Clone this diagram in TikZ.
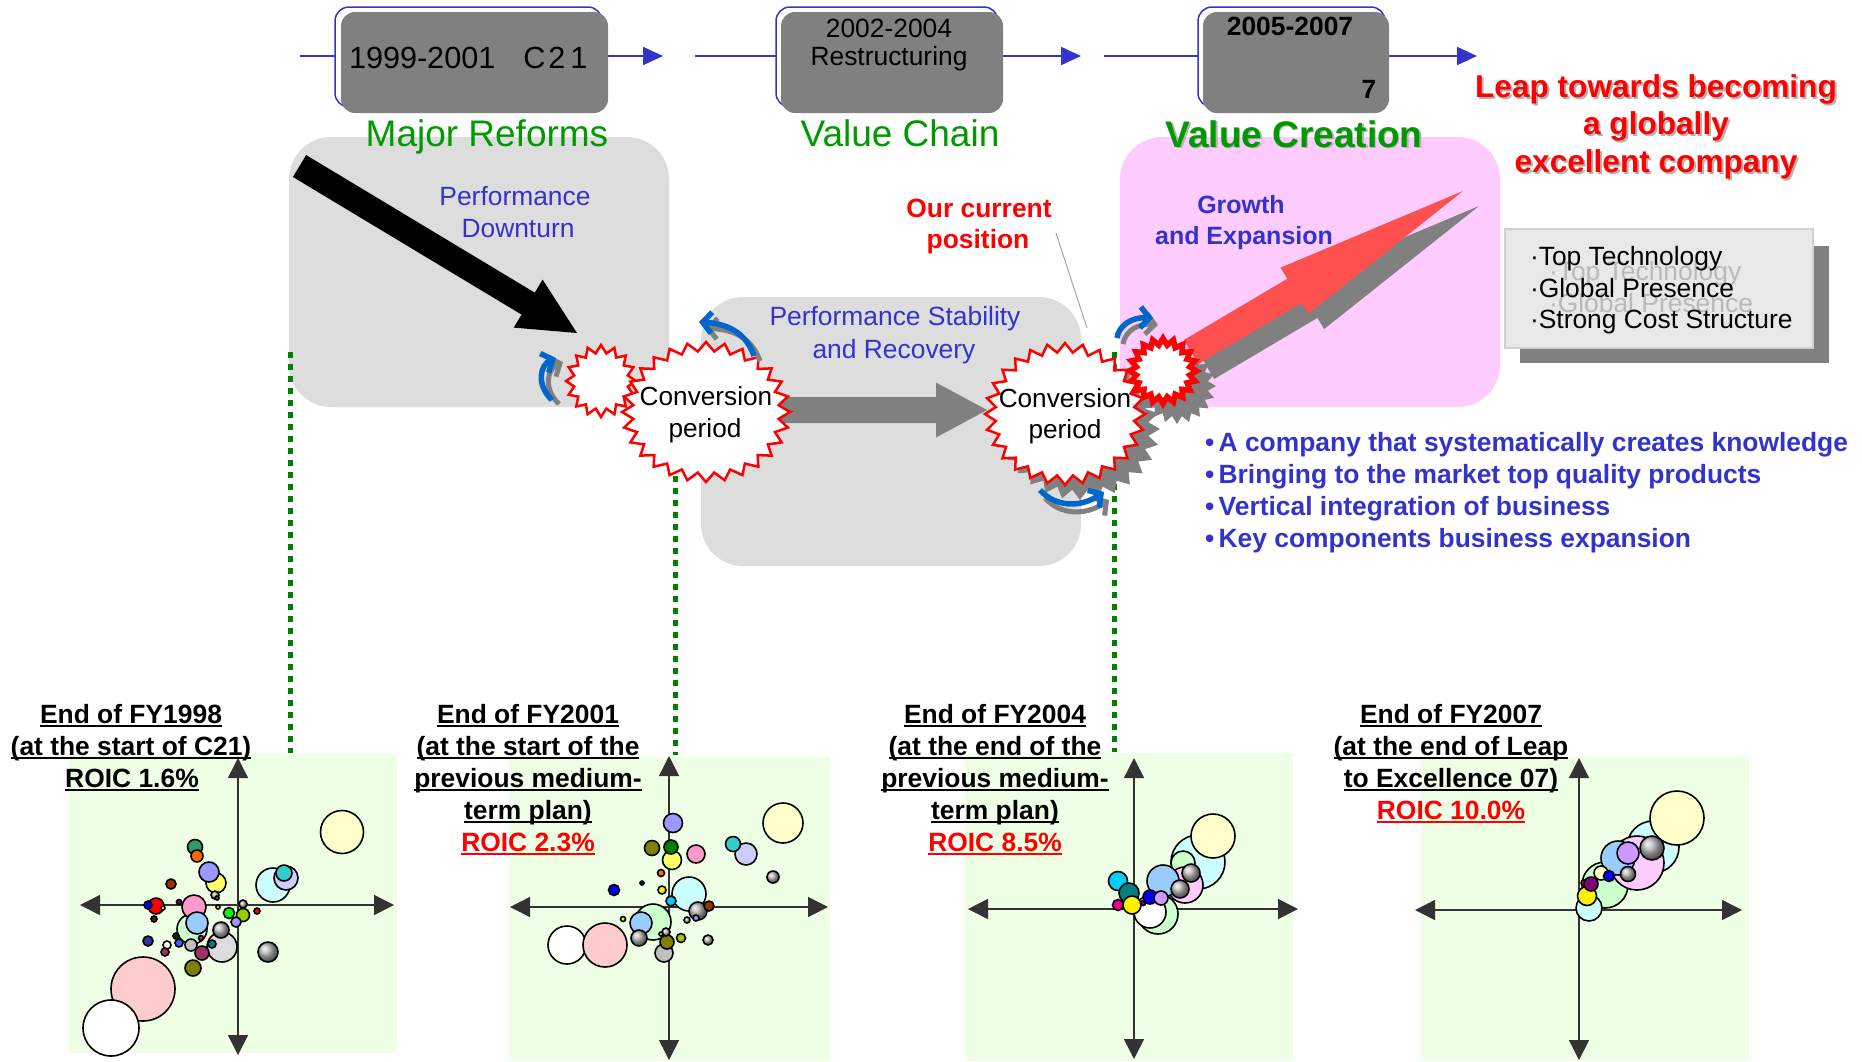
\documentclass[tikz,border=0pt]{standalone}
\usepackage{fontspec}
\setmainfont{Liberation Sans}
\usetikzlibrary{calc,arrows.meta}
\newcommand\fs[1]{\fontsize{#1}{#1}\selectfont}
\newsavebox\ulbox
\newcommand\ulx[1]{\sbox\ulbox{#1}\rlap{\rule[-3.5pt]{\wd\ulbox}{2pt}}\usebox\ulbox}
% starburst path: cx cy rx ry innerratio npoints(even)
\newcommand\burst[6]{({#1+#3},{#2}) \foreach \k in {1,...,#6} { -- ({#1+#3*(1-(1-#5)*mod(\k,2))*cos((360/#6)*\k)},{#2+#4*(1-(1-#5)*mod(\k,2))*sin((360/#6)*\k)}) } -- cycle}
% block arrow: style, from, to, shaft half width, head half width, head length
\newcommand\blockarrow[6]{%
  \path ($(#3)!#6!(#2)$) coordinate (bahd);
  \fill[#1] ($(#2)!#4!90:(#3)$) -- ($(bahd)!#4!90:(#3)$) -- ($(bahd)!#5!90:(#3)$) -- (#3)
    -- ($(bahd)!#5!-90:(#3)$) -- ($(bahd)!#4!-90:(#3)$) -- ($(#2)!#4!-90:(#3)$) -- cycle;}
\definecolor{tlblue}{RGB}{51,51,204}
\definecolor{boxgray}{RGB}{128,128,128}
\definecolor{ttgreen}{RGB}{0,153,0}
\definecolor{txblue}{RGB}{51,51,204}
\definecolor{lgray}{RGB}{221,221,221}
\definecolor{lpinkbox}{RGB}{255,204,255}
\definecolor{cblue}{RGB}{0,102,204}
\definecolor{arrred}{RGB}{255,80,80}
\definecolor{chartbg}{RGB}{238,255,230}
\definecolor{dotgreen}{RGB}{0,128,0}
\definecolor{tboxfill}{RGB}{232,232,232}
\definecolor{tboxline}{RGB}{208,208,208}
% bubble colours
\definecolor{cpink}{HTML}{FFCCCC}
\definecolor{clgray}{HTML}{DDDDDD}
\definecolor{clgreen}{HTML}{CCFFCC}
\definecolor{crose}{HTML}{FF99CC}
\definecolor{clblue}{HTML}{99CCFF}
\definecolor{ccream}{HTML}{FFFFCC}
\definecolor{clcyan}{HTML}{CCFFFF}
\definecolor{clav}{HTML}{CCCCFF}
\definecolor{cteal}{HTML}{33CCCC}
\definecolor{cseagreen}{HTML}{339966}
\definecolor{corange}{HTML}{FF6600}
\definecolor{cperi}{HTML}{9999FF}
\definecolor{cyellow}{HTML}{FFFF66}
\definecolor{cbrown}{HTML}{993300}
\definecolor{cplum}{HTML}{993366}
\definecolor{cdkolive}{HTML}{333300}
\definecolor{cpurple}{HTML}{800080}
\definecolor{cgreen}{HTML}{00FF00}
\definecolor{clime}{HTML}{99CC00}
\definecolor{cnavy}{HTML}{333399}
\definecolor{cmaroon}{HTML}{993366}
\definecolor{cdkgreen}{HTML}{003300}
\definecolor{croyal}{HTML}{3366FF}
\definecolor{csilver}{HTML}{C0C0C0}
\definecolor{cteald}{HTML}{008080}
\definecolor{colive}{HTML}{808000}
\definecolor{cgold}{HTML}{FFCC00}
\definecolor{csky}{HTML}{00CCFF}
\definecolor{cgreend}{HTML}{008000}
\definecolor{clpink}{HTML}{FFCCFF}
\definecolor{clilac}{HTML}{CC99FF}
\tikzset{
  t/.style={inner sep=0pt, outer sep=0pt, anchor=base},
  tw/.style={inner sep=0pt, outer sep=0pt, anchor=base west},
  tline/.style={draw=tlblue, line width=2pt, -{Triangle[length=20pt,width=18pt]}},
  dotline/.style={draw=dotgreen, line width=5pt, dash pattern=on 6pt off 6pt},
  cab/.style={draw=cblue, line width=5.5pt, -{Straight Barb[length=9pt,width=21pt]}},
  cas/.style={draw=boxgray, line width=5pt, -{Straight Barb[length=9pt,width=21pt]}},
  bub/.style={draw=black, line width=1.6pt},
  axisline/.style={draw=black!80, line width=1.5pt, {Triangle[length=20pt,width=20pt]}-{Triangle[length=20pt,width=20pt]}},
  cl/.style={t, font=\fs{26.4}\bfseries},
}
\newcommand\bb[4]{\filldraw[bub,fill=#4] (#1,#2) circle[radius=#3pt];}
\newcommand\gb[3]{\shadedraw[bub,ball color=gray!55] (#1,#2) circle[radius=#3pt];}
\begin{document}
\begin{tikzpicture}[x=1pt,y=-1pt]
\useasboundingbox (0,0) rectangle (1862,1061);
\fill[white] (0,0) rectangle (1862,1061);

% ---- big background panels
\fill[lgray, rounded corners=42pt] (289,137) rectangle (669,407);
\fill[lgray, rounded corners=42pt] (701,297) rectangle (1081,566);
\fill[lpinkbox, rounded corners=42pt] (1120,137) rectangle (1500,407);

% ---- timeline
\coordinate (t1s) at (300,56); \coordinate (t1e) at (663,56);
\coordinate (t2s) at (695,56); \coordinate (t2e) at (1081,56);
\coordinate (t3s) at (1104,56); \coordinate (t3e) at (1477,56);
\draw[tline] (t1s) -- (t1e);
\draw[tline] (t2s) -- (t2e);
\draw[tline] (t3s) -- (t3e);
\filldraw[fill=white, draw=tlblue, line width=1.5pt, rounded corners=14pt] (335,7) rectangle (602,107);
\fill[boxgray, rounded corners=14pt] (341,12) rectangle (608,113);
\filldraw[fill=white, draw=tlblue, line width=1.5pt, rounded corners=14pt] (776,7) rectangle (998,107);
\fill[boxgray, rounded corners=14pt] (781,12) rectangle (1003,113);
\filldraw[fill=white, draw=tlblue, line width=1.5pt, rounded corners=14pt] (1198,7) rectangle (1385,107);
\fill[boxgray, rounded corners=14pt] (1203,12) rectangle (1389,113);
\node[tw, font=\fs{30.6}] (b1) at (349,68) {1999-2001\hspace{28pt}C\hspace{3pt}2\hspace{5pt}1};
\node[t, font=\fs{26.4}] (b2a) at (889,37) {2002-2004};
\node[t, font=\fs{26.4}] (b2b) at (889,65) {Restructuring};
\node[t, font=\fs{26.4}\bfseries] (b3a) at (1290,35) {2005-2007};
\node[t, font=\fs{26.4}\bfseries] (b3b) at (1369,98) {7};

% ---- phase titles
\node[t, font=\fs{37}, text=ttgreen] (p1) at (487,146) {Major Reforms};
\node[t, font=\fs{37}, text=ttgreen] (p2) at (900,146) {Value Chain};
\node[t, font=\fs{37}\bfseries, text=gray!60] at (1295.5,148.5) {Value Creation};
\node[t, font=\fs{37}\bfseries, text=ttgreen] (p3) at (1294,147) {Value Creation};

% ---- leap text
\node[t, font=\fs{31.6}\bfseries, text=gray!60] at (1658,99) {Leap towards becoming};
\node[t, font=\fs{31.6}\bfseries, text=gray!60] at (1658,136) {a globally};
\node[t, font=\fs{31.6}\bfseries, text=gray!60] at (1658,174) {excellent company};
\node[t, font=\fs{31.6}\bfseries, text=red] (l1) at (1656,97) {Leap towards becoming};
\node[t, font=\fs{31.6}\bfseries, text=red] (l2) at (1656,134) {a globally};
\node[t, font=\fs{31.6}\bfseries, text=red] (l3) at (1656,172) {excellent company};

% ---- dotted guide lines
\draw[dotline] (290,352) -- (290,753);
\draw[dotline] (675,380) -- (675,755);
\draw[dotline] (1114,352) -- (1114,752);

% ---- panel texts
\node[t, font=\fs{26.4}, text=txblue] (pd1) at (515,205) {Performance};
\node[t, font=\fs{26.4}, text=txblue] (pd2) at (518,237) {Downturn};
\node[t, font=\fs{26.4}, text=txblue] (ps1) at (895,325) {Performance Stability};
\node[t, font=\fs{26.4}, text=txblue] (ps2) at (894,358) {and Recovery};
\node[t, font=\fs{25}\bfseries, text=txblue] (ge1) at (1241,213) {Growth};
\node[t, font=\fs{25}\bfseries, text=txblue] (ge2) at (1244,244) {and Expansion};
\node[t, font=\fs{26.4}\bfseries, text=red] (oc1) at (979,217) {Our current};
\node[t, font=\fs{26.4}\bfseries, text=red] (oc2) at (978,248) {position};
\coordinate (ocA) at (1056,233); \coordinate (ocB) at (1087,328);
\draw[gray!70, line width=1pt] (ocA) -- (ocB);

% ---- bullets
\foreach \txt [count=\i from 0] in {A company that systematically creates knowledge, Bringing to the market top quality products, Vertical integration of business, Key components business expansion}
  \node[tw, font=\fs{26.4}\bfseries, text=txblue] at (1205,451+32*\i) {•\,\txt};

% ---- strengths box
\fill[boxgray] (1520,246) rectangle (1829,363);
\filldraw[fill=tboxfill, draw=tboxline, line width=2pt] (1505,229) rectangle (1813,348);
\node[tw, font=\fs{26.4}, text=gray!55] at (1549,280) {·Top Technology};
\node[tw, font=\fs{26.4}, text=gray!55] at (1549,312) {·Global Presence};
\node[tw, font=\fs{26.4}] (s1) at (1530,265) {·Top Technology};
\node[tw, font=\fs{26.4}] (s2) at (1530,297) {·Global Presence};
\node[tw, font=\fs{26.4}] (s3) at (1530,328) {·Strong Cost Structure};

% ---- block arrows
\coordinate (bkA) at (299.5,166); \coordinate (bkB) at (577,333);
\blockarrow{black}{bkA}{bkB}{12.8pt}{28pt}{57pt}
\coordinate (gyA) at (780,410); \coordinate (gyB) at (987,410);
\blockarrow{boxgray}{gyA}{gyB}{13pt}{27.5pt}{51pt}
\coordinate (rsA) at (1207,367); \coordinate (rsB) at (1479,206);
\blockarrow{boxgray}{rsA}{rsB}{14pt}{27pt}{196pt}
\fill[boxgray] \burst{1080}{429}{80}{71}{0.86}{56};
\fill[boxgray] \burst{1177}{386}{39}{38}{0.8}{40};
\coordinate (rdA) at (1191,352); \coordinate (rdB) at (1463,191);
\blockarrow{arrred}{rdA}{rdB}{14pt}{27pt}{196pt}

% ---- starbursts
\filldraw[fill=white, draw=red, line width=2.5pt] \burst{601}{381}{35}{36}{0.78}{32};
\filldraw[fill=white, draw=red, line width=2.5pt] \burst{706}{412}{84}{70}{0.87}{56};
\filldraw[fill=white, draw=red, line width=2.5pt] \burst{1065}{414}{80}{71}{0.87}{56};
\fill[red] \burst{1163}{371}{39}{38}{0.8}{40};
\fill[white] \burst{1163}{371}{28}{27}{0.8}{40};
\node[t, font=\fs{26.2}] (cv1a) at (706,405) {Conversion};
\node[t, font=\fs{26.2}] (cv1b) at (705,437) {period};
\node[t, font=\fs{26.2}] (cv2a) at (1065,407) {Conversion};
\node[t, font=\fs{26.2}] (cv2b) at (1065,438) {period};

% ---- small curved arrows
\draw[cas] (559,404) .. controls (543,389) and (547,369) .. (563,362);
\draw[cab] (552,400) .. controls (536,385) and (540,365) .. (556,358);
\draw[cas] (760,361) .. controls (753,341) and (738,330) .. (705,328);
\draw[cab] (754,356) .. controls (747,336) and (732,324) .. (699,322);
\draw[cas] (1045,498) .. controls (1060,515) and (1085,516) .. (1109,500);
\draw[cab] (1040,490) .. controls (1055,507) and (1080,508) .. (1104,492);
\draw[cas] (1123,344) .. controls (1125,331) and (1138,323) .. (1158,325);
\draw[cab] (1117,338) .. controls (1119,325) and (1132,317) .. (1153,318);

% ================= charts =================
% chart 1
\fill[chartbg] (69,754) rectangle (397,1053);
\draw[axisline] (80,905) -- (394,905);
\draw[axisline] (238,758) -- (238,1055);
\bb{143}{989}{32}{cpink}
\bb{111}{1028}{28}{white}
\bb{222}{947}{15}{clgray}
\bb{192}{929}{15}{clgreen}
\bb{194}{907}{12}{crose}
\bb{197}{923}{11}{clblue}
\bb{342}{832}{21.5}{ccream}
\bb{273}{885}{17}{clcyan}
\bb{286}{878}{12}{clav}
\bb{284}{873}{8}{cteal}
\bb{195}{847}{7.5}{cseagreen}
\bb{197}{856}{6}{corange}
\bb{216}{883}{10}{cyellow}
\bb{209}{872}{10}{cperi}
\bb{171}{884}{5}{cbrown}
\gb{215}{895}{4}
\bb{217}{898}{2}{cplum}
\bb{156}{906}{8}{red}
\bb{148}{905}{4}{blue}
\bb{163}{908}{2}{yellow}
\bb{154}{919}{3}{cdkolive}
\bb{179}{902}{2.5}{cpurple}
\gb{221}{930}{8}
\bb{218}{907}{2}{yellow}
\bb{229}{913}{5.5}{cgreen}
\bb{243}{915}{6.5}{clime}
\bb{236}{922}{5}{cperi}
\gb{243}{904}{4}
\bb{257}{911}{3}{red}
\gb{268}{952}{10}
\bb{148}{941}{5}{cnavy}
\bb{167}{945}{4}{white}
\bb{165}{952}{4}{cmaroon}
\bb{176}{936}{3}{cdkgreen}
\bb{179}{943}{4}{croyal}
\bb{191}{945}{6}{csilver}
\bb{201}{938}{2.5}{magenta}
\bb{212}{944}{4}{cteald}
\bb{202}{953}{7}{cmaroon}
\bb{193}{968}{8}{colive}
\node[cl] (c1a) at (131,723) {\ulx{End of FY1998}};
\node[cl] (c1b) at (131,755) {\ulx{(at the start of C21)}};
\node[cl] (c1c) at (132,787) {\ulx{ROIC 1.6\%}};

% chart 2
\fill[chartbg] (509,757) rectangle (830,1061);
\draw[axisline] (510,907) -- (828,907);
\draw[axisline] (669,756) -- (669,1060);
\bb{567}{945}{19}{white}
\bb{605}{945}{22}{cpink}
\bb{653}{922}{18}{clgreen}
\bb{641}{923}{11}{clblue}
\gb{639}{938}{8}
\bb{664}{953}{9}{csilver}
\bb{667}{942}{7}{colive}
\gb{666}{932}{4}
\bb{661}{934}{2}{cgold}
\bb{681}{938}{4.5}{clime}
\gb{708}{940}{5}
\bb{623}{919}{2.5}{yellow}
\bb{689}{894}{17}{clcyan}
\bb{671}{901}{5}{csky}
\gb{698}{911}{9}
\bb{709}{906}{5}{cbrown}
\gb{687}{920}{3}
\bb{696}{918}{3}{cperi}
\bb{673}{823}{9.5}{cperi}
\bb{652}{848}{7.5}{colive}
\bb{672}{860}{9.5}{cyellow}
\bb{671}{847}{7}{cgreend}
\bb{696}{854}{9}{crose}
\bb{746}{854}{11}{clav}
\bb{733}{844}{7.5}{cteal}
\bb{783}{823}{20}{ccream}
\gb{773}{877}{6}
\bb{661}{873}{3.5}{corange}
\bb{642}{883}{2}{black}
\bb{662}{890}{4}{yellow}
\bb{614}{890}{5.5}{blue}
\node[cl] (c2a) at (528,723) {\ulx{End of FY2001}};
\node[cl] (c2b) at (528,755) {\ulx{(at the start of the}};
\node[cl] (c2c) at (528,787) {\ulx{previous medium-}};
\node[cl] (c2d) at (528,819) {\ulx{term plan)}};
\node[cl, text=red] (c2e) at (528,851) {\ulx{ROIC 2.3\%}};

% chart 3
\fill[chartbg] (965,753) rectangle (1293,1061);
\draw[axisline] (968,909) -- (1298,909);
\draw[axisline] (1134,758) -- (1134,1059);
\bb{1158}{914}{20}{clgreen}
\bb{1150}{912}{16}{white}
\bb{1198}{862}{27}{clcyan}
\bb{1213}{836}{22}{ccream}
\bb{1183}{863}{12}{clgreen}
\bb{1185}{885}{18}{clpink}
\bb{1163}{881}{16}{clblue}
\gb{1191}{873}{9}
\gb{1180}{889}{9}
\bb{1118}{881}{9.5}{csky}
\bb{1129}{893}{10}{cteald}
\bb{1150}{897}{7}{blue}
\bb{1161}{898}{7}{clilac}
\bb{1118}{905}{5.5}{magenta}
\bb{1132}{905}{9}{yellow}
\bb{1143}{903}{2.5}{cpurple}
\node[cl] (c3a) at (995,723) {\ulx{End of FY2004}};
\node[cl] (c3b) at (995,755) {\ulx{(at the end of the}};
\node[cl] (c3c) at (995,787) {\ulx{previous medium-}};
\node[cl] (c3d) at (995,819) {\ulx{term plan)}};
\node[cl, text=red] (c3e) at (995,851) {\ulx{ROIC 8.5\%}};

% chart 4
\fill[chartbg] (1421,757) rectangle (1749,1061);
\draw[axisline] (1415,910) -- (1742,910);
\draw[axisline] (1579,758) -- (1579,1060);
\bb{1605}{885}{23}{clgreen}
\bb{1589}{908}{13}{clcyan}
\bb{1653}{847}{26}{clcyan}
\bb{1677}{818}{27}{ccream}
\bb{1637}{863}{27}{clpink}
\bb{1618}{858}{17}{clblue}
\bb{1628}{853}{11}{clilac}
\gb{1652}{848}{12}
\gb{1628}{874}{7.5}
\bb{1601}{873}{7}{ccream}
\bb{1609}{876}{5.5}{blue}
\bb{1584}{883}{3}{magenta}
\bb{1587}{896}{9.5}{yellow}
\bb{1591}{884}{7}{cpurple}
\node[cl] (c4a) at (1451,723) {\ulx{End of FY2007}};
\node[cl] (c4b) at (1451,755) {\ulx{(at the end of Leap}};
\node[cl] (c4c) at (1451,787) {\ulx{to Excellence 07)}};
\node[cl, text=red] (c4d) at (1451,819) {\ulx{ROIC 10.0\%}};
\end{tikzpicture}
\end{document}
